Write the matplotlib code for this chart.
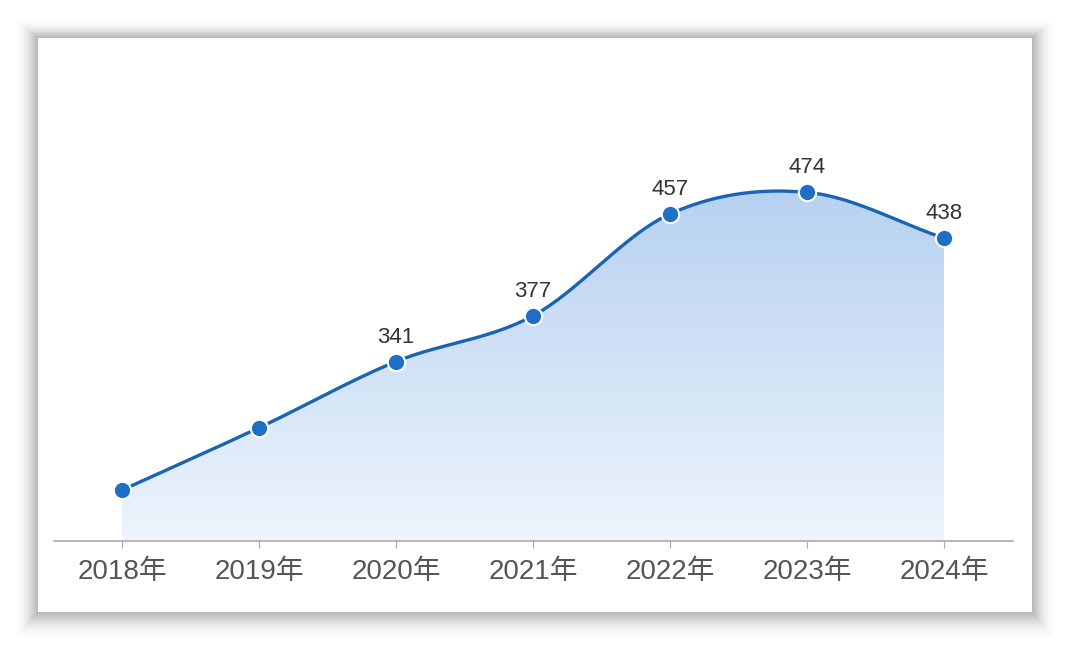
import numpy as np
import matplotlib
matplotlib.use('Agg')
import matplotlib.pyplot as plt
from matplotlib.patches import Rectangle, PathPatch
from matplotlib.path import Path

plt.rcParams['font.family'] = ['Liberation Sans', 'Noto Sans CJK SC', 'DejaVu Sans']

# datos
years = ['2018年', '2019年', '2020年', '2021年', '2022年', '2023年', '2024年']
values = [240, 289, 341, 377, 457, 474, 438]
shown = [False, False, True, True, True, True, True]

line_color = '#1865b4'
dot_color = '#1f6fc6'


def catmull_rom(x, y, n=40):
    # curva suave que pasa por todos los puntos
    x = np.asarray(x, float)
    y = np.asarray(y, float)
    px = np.concatenate([[2 * x[0] - x[1]], x, [2 * x[-1] - x[-2]]])
    py = np.concatenate([[2 * y[0] - y[1]], y, [2 * y[-1] - y[-2]]])
    xs, ys = [], []
    t = np.linspace(0, 1, n, endpoint=False)
    for i in range(1, len(px) - 2):
        for p, out in ((px, xs), (py, ys)):
            p0, p1, p2, p3 = p[i - 1], p[i], p[i + 1], p[i + 2]
            out.append(0.5 * ((2 * p1) + (-p0 + p2) * t
                              + (2 * p0 - 5 * p1 + 4 * p2 - p3) * t ** 2
                              + (-p0 + 3 * p1 - 3 * p2 + p3) * t ** 3))
    xs.append([x[-1]])
    ys.append([y[-1]])
    return np.concatenate(xs), np.concatenate(ys)


fig = plt.figure(figsize=(10.7, 6.5), dpi=100)
fig.patch.set_facecolor('white')

# sombra y tarjeta
for k in range(24, 0, -1):
    a = 0.05 * (1 - k / 25.0) ** 1.5
    fig.patches.append(Rectangle(((38 - k) / 1070, (650 - 612 - k * 1.2) / 650),
                                 (994 + 2 * k) / 1070, (574 + 2 * k) / 650,
                                 transform=fig.transFigure, facecolor='#555555',
                                 edgecolor='none', alpha=a, zorder=0))
fig.patches.append(Rectangle((38 / 1070, 38 / 650), 994 / 1070, 574 / 650,
                             transform=fig.transFigure, facecolor='white',
                             edgecolor='none', zorder=1))

ax = fig.add_axes([53.5 / 1070, 109 / 650, 959 / 1070, 481 / 650])
ax.set_facecolor('none')
ax.set_zorder(2)

x = np.arange(len(years))
sx, sy = catmull_rom(x, values)
ymin = 200

# relleno con degradado
verts = np.column_stack([np.concatenate([[sx[0]], sx, [sx[-1]]]),
                         np.concatenate([[ymin], sy, [ymin]])])
clip = PathPatch(Path(verts), facecolor='none', edgecolor='none')
ax.add_patch(clip)
grad = np.linspace(0, 1, 256).reshape(-1, 1)
top = np.array([0.72, 0.82, 0.94])
bottom = np.array([0.93, 0.96, 0.99])
img = bottom + (top - bottom) * grad
img = img.reshape(256, 1, 3)
im = ax.imshow(img, extent=[x[0], x[-1], ymin, max(values)], origin='lower',
               aspect='auto', zorder=1)
im.set_clip_path(clip)

ax.plot(sx, sy, color=line_color, lw=2.4, zorder=3, solid_capstyle='round')
ax.plot(x, values, 'o', ms=12.5, color=dot_color, mec='white', mew=1.5, zorder=4)

for xi, v, s in zip(x, values, shown):
    if s:
        ax.text(xi, v + 11, str(v), ha='center', va='bottom', fontsize=16,
                color='#333333', zorder=5)

ax.set_xlim(-0.5, len(years) - 0.5)
ax.set_ylim(ymin, 578)
ax.set_xticks(x)
ax.set_xticklabels(years, fontsize=20, color='#555555')
ax.tick_params(axis='x', length=5, color='#aaaaaa', pad=8)
ax.set_yticks([])
for s in ['top', 'right', 'left']:
    ax.spines[s].set_visible(False)
ax.spines['bottom'].set_color('#aaaaaa')
ax.spines['bottom'].set_linewidth(1.2)

fig.savefig('out.png', dpi=100, facecolor=fig.get_facecolor())
